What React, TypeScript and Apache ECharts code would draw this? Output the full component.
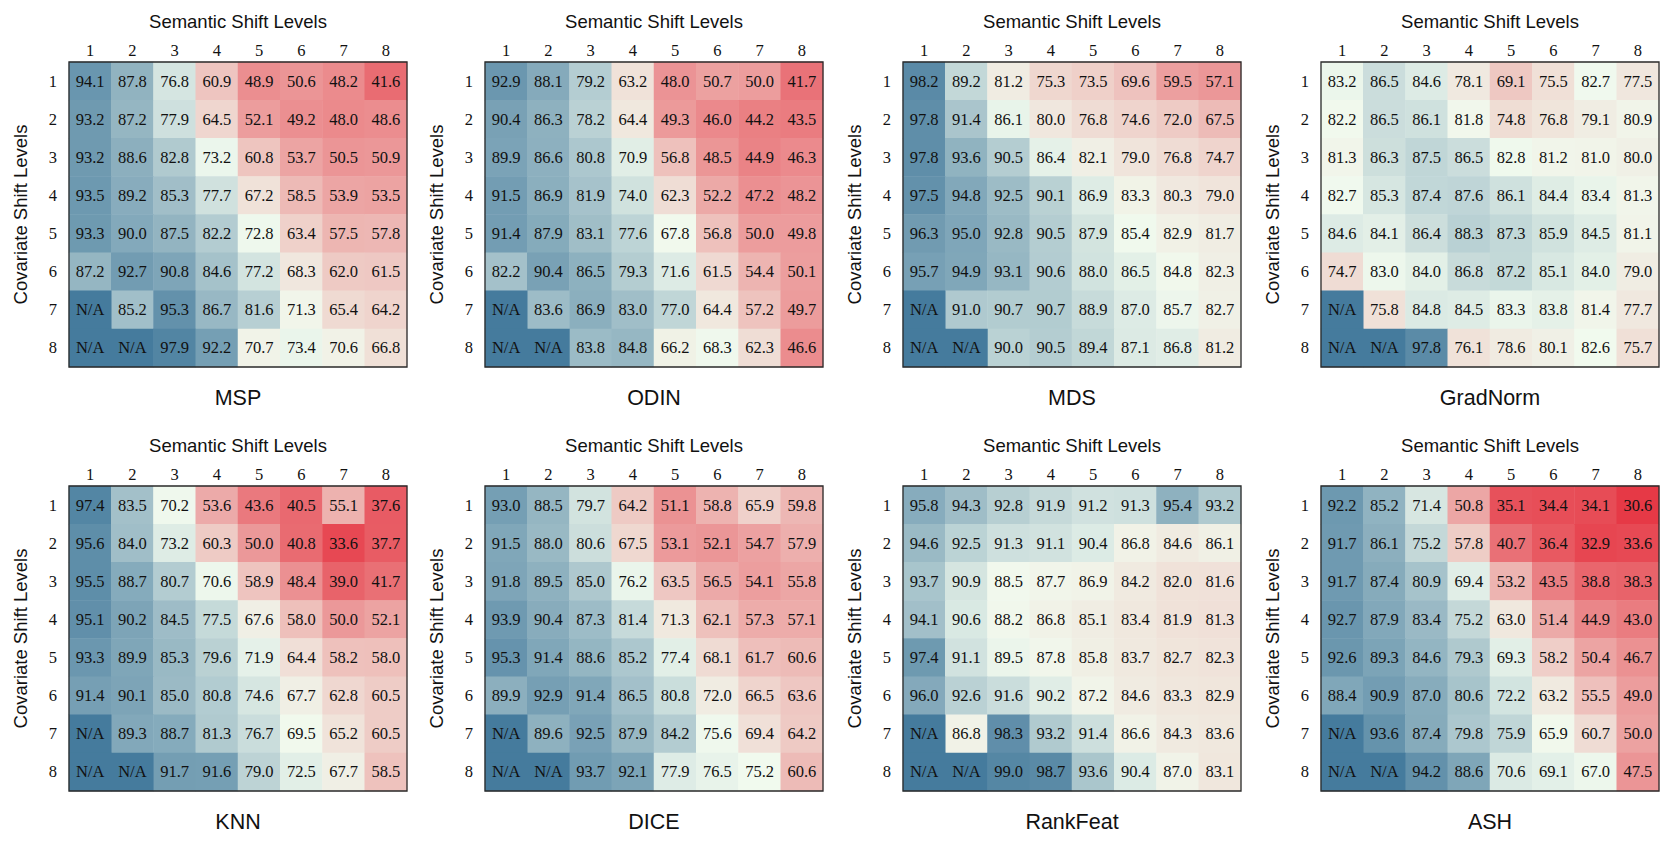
import React, { useEffect, useRef } from "react";
import * as echarts from "echarts";

const levels = ["1", "2", "3", "4", "5", "6", "7", "8"];
const methods = ["MSP", "ODIN", "MDS", "GradNorm", "KNN", "DICE", "RankFeat", "ASH"];
const xTitle = "Semantic Shift Levels";
const yTitle = "Covariate Shift Levels";
const naText = "N/A";

const msp = [
  [94.1, 87.8, 76.8, 60.9, 48.9, 50.6, 48.2, 41.6],
  [93.2, 87.2, 77.9, 64.5, 52.1, 49.2, 48.0, 48.6],
  [93.2, 88.6, 82.8, 73.2, 60.8, 53.7, 50.5, 50.9],
  [93.5, 89.2, 85.3, 77.7, 67.2, 58.5, 53.9, 53.5],
  [93.3, 90.0, 87.5, 82.2, 72.8, 63.4, 57.5, 57.8],
  [87.2, 92.7, 90.8, 84.6, 77.2, 68.3, 62.0, 61.5],
  [null, 85.2, 95.3, 86.7, 81.6, 71.3, 65.4, 64.2],
  [null, null, 97.9, 92.2, 70.7, 73.4, 70.6, 66.8],
];
const odin = [
  [92.9, 88.1, 79.2, 63.2, 48.0, 50.7, 50.0, 41.7],
  [90.4, 86.3, 78.2, 64.4, 49.3, 46.0, 44.2, 43.5],
  [89.9, 86.6, 80.8, 70.9, 56.8, 48.5, 44.9, 46.3],
  [91.5, 86.9, 81.9, 74.0, 62.3, 52.2, 47.2, 48.2],
  [91.4, 87.9, 83.1, 77.6, 67.8, 56.8, 50.0, 49.8],
  [82.2, 90.4, 86.5, 79.3, 71.6, 61.5, 54.4, 50.1],
  [null, 83.6, 86.9, 83.0, 77.0, 64.4, 57.2, 49.7],
  [null, null, 83.8, 84.8, 66.2, 68.3, 62.3, 46.6],
];
const mds = [
  [98.2, 89.2, 81.2, 75.3, 73.5, 69.6, 59.5, 57.1],
  [97.8, 91.4, 86.1, 80.0, 76.8, 74.6, 72.0, 67.5],
  [97.8, 93.6, 90.5, 86.4, 82.1, 79.0, 76.8, 74.7],
  [97.5, 94.8, 92.5, 90.1, 86.9, 83.3, 80.3, 79.0],
  [96.3, 95.0, 92.8, 90.5, 87.9, 85.4, 82.9, 81.7],
  [95.7, 94.9, 93.1, 90.6, 88.0, 86.5, 84.8, 82.3],
  [null, 91.0, 90.7, 90.7, 88.9, 87.0, 85.7, 82.7],
  [null, null, 90.0, 90.5, 89.4, 87.1, 86.8, 81.2],
];
const gradnorm = [
  [83.2, 86.5, 84.6, 78.1, 69.1, 75.5, 82.7, 77.5],
  [82.2, 86.5, 86.1, 81.8, 74.8, 76.8, 79.1, 80.9],
  [81.3, 86.3, 87.5, 86.5, 82.8, 81.2, 81.0, 80.0],
  [82.7, 85.3, 87.4, 87.6, 86.1, 84.4, 83.4, 81.3],
  [84.6, 84.1, 86.4, 88.3, 87.3, 85.9, 84.5, 81.1],
  [74.7, 83.0, 84.0, 86.8, 87.2, 85.1, 84.0, 79.0],
  [null, 75.8, 84.8, 84.5, 83.3, 83.8, 81.4, 77.7],
  [null, null, 97.8, 76.1, 78.6, 80.1, 82.6, 75.7],
];
const knn = [
  [97.4, 83.5, 70.2, 53.6, 43.6, 40.5, 55.1, 37.6],
  [95.6, 84.0, 73.2, 60.3, 50.0, 40.8, 33.6, 37.7],
  [95.5, 88.7, 80.7, 70.6, 58.9, 48.4, 39.0, 41.7],
  [95.1, 90.2, 84.5, 77.5, 67.6, 58.0, 50.0, 52.1],
  [93.3, 89.9, 85.3, 79.6, 71.9, 64.4, 58.2, 58.0],
  [91.4, 90.1, 85.0, 80.8, 74.6, 67.7, 62.8, 60.5],
  [null, 89.3, 88.7, 81.3, 76.7, 69.5, 65.2, 60.5],
  [null, null, 91.7, 91.6, 79.0, 72.5, 67.7, 58.5],
];
const dice = [
  [93.0, 88.5, 79.7, 64.2, 51.1, 58.8, 65.9, 59.8],
  [91.5, 88.0, 80.6, 67.5, 53.1, 52.1, 54.7, 57.9],
  [91.8, 89.5, 85.0, 76.2, 63.5, 56.5, 54.1, 55.8],
  [93.9, 90.4, 87.3, 81.4, 71.3, 62.1, 57.3, 57.1],
  [95.3, 91.4, 88.6, 85.2, 77.4, 68.1, 61.7, 60.6],
  [89.9, 92.9, 91.4, 86.5, 80.8, 72.0, 66.5, 63.6],
  [null, 89.6, 92.5, 87.9, 84.2, 75.6, 69.4, 64.2],
  [null, null, 93.7, 92.1, 77.9, 76.5, 75.2, 60.6],
];
const rankfeat = [
  [95.8, 94.3, 92.8, 91.9, 91.2, 91.3, 95.4, 93.2],
  [94.6, 92.5, 91.3, 91.1, 90.4, 86.8, 84.6, 86.1],
  [93.7, 90.9, 88.5, 87.7, 86.9, 84.2, 82.0, 81.6],
  [94.1, 90.6, 88.2, 86.8, 85.1, 83.4, 81.9, 81.3],
  [97.4, 91.1, 89.5, 87.8, 85.8, 83.7, 82.7, 82.3],
  [96.0, 92.6, 91.6, 90.2, 87.2, 84.6, 83.3, 82.9],
  [null, 86.8, 98.3, 93.2, 91.4, 86.6, 84.3, 83.6],
  [null, null, 99.0, 98.7, 93.6, 90.4, 87.0, 83.1],
];
const ash = [
  [92.2, 85.2, 71.4, 50.8, 35.1, 34.4, 34.1, 30.6],
  [91.7, 86.1, 75.2, 57.8, 40.7, 36.4, 32.9, 33.6],
  [91.7, 87.4, 80.9, 69.4, 53.2, 43.5, 38.8, 38.3],
  [92.7, 87.9, 83.4, 75.2, 63.0, 51.4, 44.9, 43.0],
  [92.6, 89.3, 84.6, 79.3, 69.3, 58.2, 50.4, 46.7],
  [88.4, 90.9, 87.0, 80.6, 72.2, 63.2, 55.5, 49.0],
  [null, 93.6, 87.4, 79.8, 75.9, 65.9, 60.7, 50.0],
  [null, null, 94.2, 88.6, 70.6, 69.1, 67.0, 47.5],
];

const tables: (number | null)[][][] = [msp, odin, mds, gradnorm, knn, dice, rankfeat, ash];

// colour scale (style)
const SCALE_MAX = 100;
const BLUE = [0x45, 0x7b, 0x9d];
const WHITE = [0xf1, 0xfa, 0xee];
const RED = [0xe6, 0x39, 0x46];
const NA_COLOR = "#457b9d";

const mix = (a: number[], b: number[], t: number) => {
  const tt = Math.max(0, Math.min(1, t));
  const c = a.map((v, i) => Math.round(v + (b[i] - v) * tt));
  return `rgb(${c[0]},${c[1]},${c[2]})`;
};

function buildStops(center: number, lo: number, hi: number, k = 220) {
  const out: string[] = [];
  for (let i = 0; i < k; i++) {
    const v = lo + ((hi - lo) * i) / (k - 1);
    if (v < center) out.push(mix(WHITE, RED, (center - v) / (center - lo)));
    else out.push(mix(WHITE, BLUE, (v - center) / (hi - center)));
  }
  return out;
}

// layout (style)
const gridLefts = [69, 485, 903, 1321];
const gridTops = [62, 486];
const GW = 338;
const GH = 305;
const serif = "'Liberation Serif', 'Times New Roman', serif";
const sans = "'Liberation Sans', Arial, sans-serif";
const NUM_SIZE = 16.5;

export default function App() {
  const ref = useRef<HTMLDivElement>(null);
  useEffect(() => {
    if (!ref.current) return;
    const chart = echarts.init(ref.current, undefined, { renderer: "svg" });

    const allVals = tables.flat(2).filter((v) => v != null) as number[];
    const globalMin = Math.min(...allVals);

    const grids: any[] = [];
    const xAxes: any[] = [];
    const yAxes: any[] = [];
    const series: any[] = [];
    const visualMaps: any[] = [];
    const graphics: any[] = [];

    tables.forEach((tbl, i) => {
      const col = i % 4;
      const row = Math.floor(i / 4);
      const left = gridLefts[col];
      const top = gridTops[row];
      grids.push({
        left,
        top,
        width: GW,
        height: GH,
        show: true,
        borderColor: "#2a2a2a",
        borderWidth: 1.3,
        backgroundColor: "transparent",
        z: 10,
      });
      xAxes.push({
        type: "category",
        gridIndex: i,
        data: levels,
        position: "top",
        name: xTitle,
        nameLocation: "middle",
        nameGap: 31,
        nameTextStyle: { fontFamily: sans, fontSize: 18.5, color: "#111" },
        axisLine: { show: false },
        axisTick: { show: false },
        splitLine: { show: false },
        axisLabel: { fontFamily: serif, fontSize: NUM_SIZE, color: "#111", margin: 3 },
      });
      yAxes.push({
        type: "category",
        gridIndex: i,
        data: levels,
        inverse: true,
        name: yTitle,
        nameLocation: "middle",
        nameGap: 39,
        nameRotate: 90,
        nameTextStyle: { fontFamily: sans, fontSize: 18.5, color: "#111" },
        axisLine: { show: false },
        axisTick: { show: false },
        splitLine: { show: false },
        axisLabel: { fontFamily: serif, fontSize: NUM_SIZE, color: "#111", margin: 12 },
      });

      const vals: any[] = [];
      const nas: any[] = [];
      tbl.forEach((r, ri) =>
        r.forEach((v, ci) => {
          if (v == null) nas.push([ci, ri, SCALE_MAX]);
          else vals.push([ci, ri, v]);
        })
      );
      const nums = vals.map((d) => d[2] as number);
      const center = nums.reduce((a, b) => a + b, 0) / nums.length;

      const sIdx = series.length;
      series.push({
        type: "heatmap",
        xAxisIndex: i,
        yAxisIndex: i,
        data: vals,
        z: 2,
        label: {
          show: true,
          fontFamily: serif,
          fontSize: NUM_SIZE,
          color: "#111",
          formatter: (p: any) => (p.value[2] as number).toFixed(1),
        },
        itemStyle: { borderWidth: 0 },
        emphasis: { disabled: true },
      });
      series.push({
        type: "heatmap",
        xAxisIndex: i,
        yAxisIndex: i,
        data: nas,
        z: 2,
        itemStyle: { borderWidth: 0 },
        label: {
          show: true,
          fontFamily: serif,
          fontSize: NUM_SIZE,
          color: "#111",
          formatter: () => naText,
        },
        emphasis: { disabled: true },
      });
      visualMaps.push({
        type: "continuous",
        show: false,
        seriesIndex: sIdx,
        dimension: 2,
        min: globalMin,
        max: SCALE_MAX,
        inRange: { color: buildStops(center, globalMin, SCALE_MAX) },
      });
      visualMaps.push({
        type: "continuous",
        show: false,
        seriesIndex: sIdx + 1,
        dimension: 2,
        min: 0,
        max: SCALE_MAX,
        inRange: { color: [NA_COLOR, NA_COLOR] },
      });
      graphics.push({
        type: "text",
        x: left + GW / 2,
        y: top + GH + 31,
        style: {
          text: methods[i],
          font: `21.5px ${sans}`,
          fill: "#111",
          align: "center",
          verticalAlign: "middle",
          textAlign: "center",
          textVerticalAlign: "middle",
        },
      });
    });

    chart.setOption({
      animation: false,
      backgroundColor: "#ffffff",
      grid: grids,
      xAxis: xAxes,
      yAxis: yAxes,
      visualMap: visualMaps,
      series,
      graphic: graphics,
    });
    return () => chart.dispose();
  }, []);

  return (
    <div
      ref={ref}
      style={{ position: "fixed", left: 0, top: 0, width: 1660, height: 848, background: "#fff" }}
    />
  );
}
